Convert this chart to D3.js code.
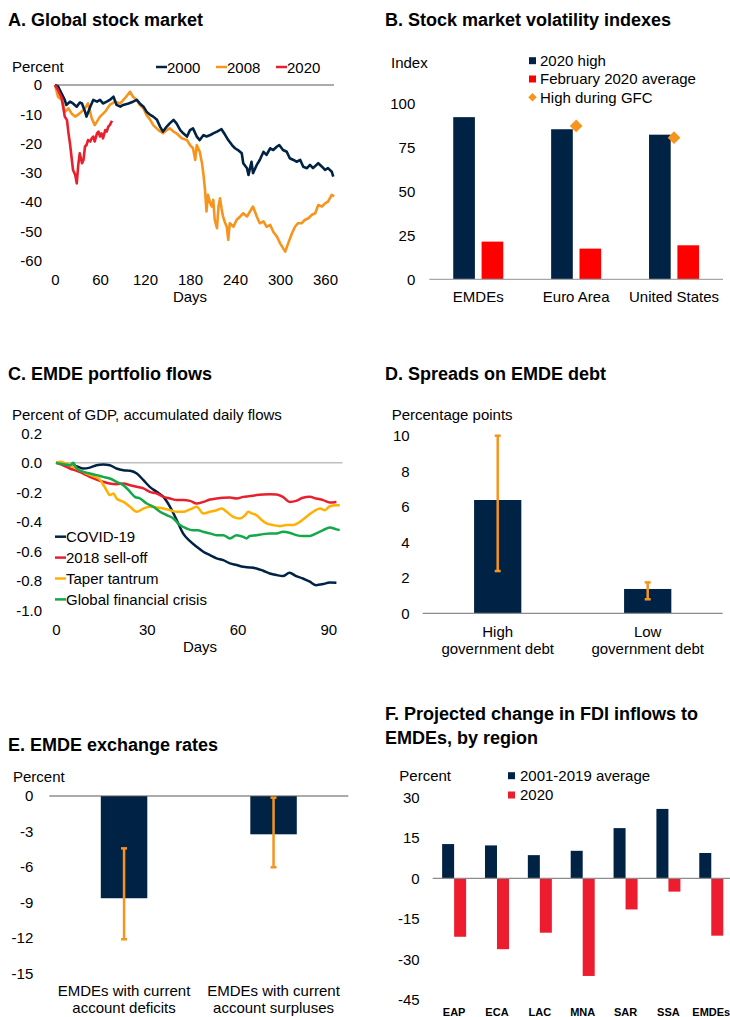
<!DOCTYPE html>
<html>
<head>
<meta charset="utf-8">
<script src="https://cdn.jsdelivr.net/npm/d3@7"></script>
<style>
  body { margin: 0; background: #fff; }
  svg { display: block; font-family: "Liberation Sans", Arial, sans-serif; }
  .title { font-weight: bold; font-size: 18px; fill: #000; }
  .lbl { font-size: 15px; fill: #000; }
  .tick text { font-size: 15px; fill: #000; font-family: "Liberation Sans", Arial, sans-serif; }
</style>
</head>
<body>
<svg id="chart" width="730" height="1017"></svg>
<script>
// ---- Panel A: global stock market, [day, percent]
const stock2000 = [[0,0],[4,-0.5],[8,-2.5],[13,-5.1],[15,-6.8],[20,-5.7],[24,-6.3],[29,-7.4],[33,-6.0],[36,-6.3],[40,-9.1],[42,-10.8],[47,-7.4],[51,-5.1],[56,-5.7],[60,-5.1],[64,-6.3],[69,-5.7],[73,-5.1],[78,-4.0],[82,-6.8],[87,-7.4],[91,-6.8],[98,-6.3],[104,-5.7],[109,-5.1],[113,-6.3],[118,-7.4],[122,-9.1],[127,-10.2],[131,-10.8],[136,-11.9],[140,-14.2],[144,-15.9],[149,-14.2],[153,-13.1],[158,-11.9],[162,-13.1],[167,-15.4],[171,-16.5],[176,-17.6],[180,-15.4],[184,-14.8],[189,-17.6],[193,-18.8],[198,-17.1],[202,-17.6],[207,-17.1],[211,-16.5],[216,-15.9],[222,-15.1],[227,-17.1],[231,-18.8],[236,-20.5],[240,-21.6],[244,-22.2],[249,-23.3],[251,-26.7],[256,-28.4],[258,-30.7],[262,-26.2],[264,-30.1],[269,-27.3],[273,-25.6],[278,-22.8],[282,-23.9],[287,-21.6],[291,-22.2],[296,-21.0],[299,-20.5],[304,-22.2],[309,-22.8],[313,-25.0],[318,-25.6],[322,-26.2],[327,-25.6],[331,-27.9],[336,-28.4],[340,-27.3],[344,-28.4],[351,-26.7],[356,-27.9],[360,-29.0],[364,-28.4],[369,-29.6],[371,-31.3]];
const stock2008 = [[0,0],[4,-4.0],[9,-5.1],[13,-9.1],[18,-8.0],[22,-9.7],[27,-10.8],[33,-9.7],[40,-8.0],[44,-6.3],[49,-11.4],[53,-13.7],[60,-10.8],[67,-9.1],[73,-6.8],[80,-5.7],[87,-6.3],[93,-4.6],[100,-2.3],[104,-4.0],[109,-5.1],[113,-6.8],[118,-8.0],[122,-10.2],[127,-11.9],[131,-13.7],[138,-15.4],[144,-16.5],[149,-15.4],[153,-14.8],[158,-15.9],[162,-16.5],[169,-18.2],[176,-18.8],[180,-20.5],[184,-21.6],[187,-25.6],[189,-20.5],[193,-22.8],[196,-26.7],[198,-30.7],[200,-35.8],[202,-43.2],[204,-37.5],[207,-40.4],[209,-41.5],[211,-39.2],[213,-46.1],[216,-48.9],[218,-41.5],[220,-38.7],[222,-42.1],[224,-44.9],[227,-47.2],[229,-48.4],[231,-52.9],[233,-47.2],[238,-48.4],[242,-46.1],[247,-44.9],[251,-43.8],[256,-44.9],[260,-43.2],[264,-41.5],[269,-44.9],[273,-47.2],[278,-46.6],[282,-48.4],[287,-47.8],[291,-50.1],[296,-51.8],[300,-54.0],[304,-55.7],[307,-56.9],[311,-54.0],[316,-50.6],[320,-48.4],[324,-47.2],[329,-47.2],[333,-46.1],[338,-45.5],[342,-44.4],[347,-43.8],[351,-41.0],[356,-41.5],[360,-40.4],[364,-39.8],[369,-37.5],[372,-38.1]];
const stock2020 = [[0,0],[4,-1.7],[9,-4.5],[13,-10.8],[16,-12.0],[18,-16.5],[20,-20.0],[22,-24.5],[24,-29.0],[27,-30.7],[29,-33.6],[31,-27.3],[33,-23.3],[36,-26.7],[38,-25.6],[40,-21.0],[42,-20.5],[44,-18.8],[47,-19.3],[49,-18.2],[51,-17.6],[53,-19.3],[56,-16.5],[58,-15.9],[60,-17.6],[62,-16.5],[64,-18.2],[67,-15.4],[69,-15.9],[71,-14.2],[73,-13.7],[76,-12.2]];
const stockTicksY = [0,-10,-20,-30,-40,-50,-60];
const stockTicksX = [0,60,120,180,240,300,360];

// ---- Panel B: volatility indexes
const volCats = ["EMDEs","Euro Area","United States"];
const volHigh2020 = [92.5,85.6,82.5];
const volFeb2020 = [21.5,17.5,19.4];
const volGFC = [null,87.5,80.8];
const volTicks = [0,25,50,75,100];

// ---- Panel C: portfolio flows, [day, % of GDP]
const flowCovid = [[0,0],[2.4,-0.005],[4.6,-0.016],[6.8,-0.023],[9,-0.038],[11.2,-0.032],[13.4,-0.016],[15.6,-0.011],[17.8,-0.016],[20,-0.038],[22.3,-0.05],[24.5,-0.054],[26.7,-0.072],[28.9,-0.117],[31,-0.162],[33.3,-0.196],[35.5,-0.23],[37.7,-0.297],[39.9,-0.387],[42,-0.477],[44.3,-0.53],[46.5,-0.568],[48.7,-0.601],[50.9,-0.624],[53.1,-0.646],[55.3,-0.658],[57.5,-0.68],[59.7,-0.691],[61.9,-0.703],[64,-0.707],[66.3,-0.714],[68.5,-0.73],[70.7,-0.748],[72.9,-0.759],[75,-0.766],[77.2,-0.743],[79.4,-0.766],[81.6,-0.782],[83.9,-0.804],[86,-0.827],[88.3,-0.82],[90.5,-0.809],[92.7,-0.811]];
const flow2018 = [[0,0],[2.4,-0.016],[4.6,-0.038],[6.8,-0.054],[9,-0.072],[11.2,-0.095],[13.4,-0.113],[15.6,-0.128],[17.8,-0.14],[20,-0.144],[22.3,-0.14],[24.5,-0.151],[26.7,-0.162],[28.9,-0.173],[31,-0.196],[33.3,-0.207],[35.5,-0.23],[37.7,-0.241],[39.9,-0.252],[42,-0.252],[44.3,-0.257],[46.5,-0.275],[48.7,-0.264],[50.9,-0.248],[53.1,-0.241],[55.3,-0.236],[57.5,-0.234],[59.7,-0.241],[61.9,-0.23],[64,-0.225],[66.3,-0.218],[68.5,-0.214],[70.7,-0.212],[72.9,-0.214],[75,-0.23],[77.2,-0.264],[79.4,-0.257],[81.6,-0.236],[83.9,-0.23],[86,-0.241],[88.3,-0.252],[90.5,-0.268],[92.7,-0.264]];
const flowTaper = [[0,0],[1.3,0.007],[3.5,-0.005],[5.7,-0.027],[7.9,-0.05],[10.1,-0.072],[12.3,-0.09],[14.5,-0.113],[16.7,-0.185],[17.8,-0.218],[19,-0.207],[20,-0.241],[22.3,-0.264],[24.5,-0.297],[26.7,-0.331],[28.9,-0.309],[31,-0.297],[33.3,-0.302],[35.5,-0.309],[37.7,-0.32],[39.9,-0.331],[42,-0.331],[44.3,-0.315],[46.5,-0.297],[48.7,-0.342],[50.9,-0.331],[53.1,-0.32],[54.8,-0.309],[56.4,-0.331],[58.6,-0.365],[60.8,-0.376],[62.5,-0.354],[63.6,-0.331],[64.7,-0.342],[66.3,-0.354],[68,-0.387],[69.6,-0.41],[71.8,-0.421],[74,-0.428],[76.2,-0.421],[78.4,-0.421],[80.6,-0.399],[82.8,-0.365],[85,-0.331],[87.3,-0.309],[88.9,-0.32],[90.5,-0.293],[92.7,-0.286],[93.8,-0.286]];
const flowGFC = [[0,0],[2.4,-0.009],[4.6,-0.016],[5.7,0],[6.8,-0.038],[9,-0.061],[11.2,-0.072],[13.4,-0.083],[15.6,-0.095],[17.8,-0.106],[20,-0.128],[22.3,-0.151],[24.5,-0.196],[26.1,-0.23],[27.8,-0.241],[30,-0.275],[32.2,-0.297],[34.4,-0.331],[36.6,-0.354],[38.8,-0.376],[41,-0.421],[43.2,-0.444],[45.3,-0.455],[46.9,-0.455],[48.7,-0.466],[50.9,-0.477],[53.1,-0.489],[55.3,-0.489],[57.5,-0.511],[59.7,-0.489],[61.9,-0.5],[63,-0.511],[64,-0.495],[66.3,-0.489],[68.5,-0.482],[70.7,-0.477],[72.9,-0.477],[75,-0.466],[77.2,-0.473],[79.4,-0.489],[81.6,-0.495],[83.9,-0.495],[86,-0.477],[88.3,-0.455],[90.5,-0.437],[92.7,-0.45],[93.8,-0.455]];
const flowNames = ["COVID-19","2018 sell-off","Taper tantrum","Global financial crisis"];
const flowTicksY = [0.2,0,-0.2,-0.4,-0.6,-0.8,-1.0];
const flowTicksX = [0,30,60,90];

// ---- Panel D: spreads
const debtCats = [["High","government debt"],["Low","government debt"]];
const debtSpread = [6.38,1.37];
const debtLow = [2.38,0.79];
const debtHigh = [10.0,1.74];
const debtTicks = [0,2,4,6,8,10];

// ---- Panel E: exchange rates
const fxCats = [["EMDEs with current","account deficits"],["EMDEs with current","account surpluses"]];
const fxChange = [-8.65,-3.24];
const fxLow = [-12.12,-6.03];
const fxHigh = [-4.43,-0.14];
const fxTicks = [0,-3,-6,-9,-12,-15];

// ---- Panel F: FDI inflows
const fdiCats = ["EAP","ECA","LAC","MNA","SAR","SSA","EMDEs"];
const fdiAvg = [12.7,12.2,8.6,10.2,18.6,25.7,9.4];
const fdi2020 = [-21.6,-26.2,-20.1,-36.1,-11.5,-4.9,-21.2];
const fdiTicks = [30,15,0,-15,-30,-45];

const navy = "#002345", orange = "#f7941d";
const svg = d3.select("#chart");

function title(x, y, lines) {
  lines.forEach((t, i) => svg.append("text").attr("class", "title")
    .attr("x", x).attr("y", y + i * 24).text(t));
}
function label(x, y, t, anchor) {
  return svg.append("text").attr("class", "lbl").attr("x", x).attr("y", y)
    .attr("text-anchor", anchor || "start").text(t);
}
function leftAxis(y, x0, vals, pad, fmt) {
  svg.append("g").attr("transform", `translate(${x0},0)`)
    .call(d3.axisLeft(y).tickValues(vals).tickSize(0).tickPadding(pad).tickFormat(fmt || (d => String(d))))
    .call(g => g.select(".domain").remove());
}
function hline(x1, x2, y, col, w) {
  svg.append("line").attr("x1", x1).attr("x2", x2).attr("y1", y).attr("y2", y)
    .attr("stroke", col).attr("stroke-width", w || 1);
}

// ================= A =================
title(8, 26, ["A. Global stock market"]);
label(12, 72, "Percent");
const xA = d3.scaleLinear().domain([0, 372]).range([55, 334]);
const yA = d3.scaleLinear().domain([-60, 0]).range([260.7, 85]);
leftAxis(yA, 55, stockTicksY, 13);
svg.append("g").attr("transform", `translate(0,${yA(-60)})`)
  .call(d3.axisBottom(xA).tickValues(stockTicksX).tickSize(0).tickPadding(14))
  .call(g => g.select(".domain").remove());
label(190, 302, "Days", "middle");
hline(xA(0), xA(372), yA(0), "#595959", 1.2);
const lineA = d3.line().x(d => xA(d[0])).y(d => yA(d[1]));
[[stock2008, orange], [stock2000, navy], [stock2020, "#e8202e"]].forEach(([s, c]) => {
  svg.append("path").datum(s).attr("d", lineA).attr("fill", "none")
    .attr("stroke", c).attr("stroke-width", 2.6).attr("stroke-linejoin", "round");
});
[["2000", navy, 156], ["2008", orange, 216], ["2020", "#e8202e", 276]].forEach(([t, c, x]) => {
  hline(x, x + 11, 67, c, 2.5);
  label(x + 11, 72.5, t);
});

// ================= B =================
title(385, 26, ["B. Stock market volatility indexes"]);
label(391, 68, "Index");
const xB = d3.scaleBand().domain(volCats).range([429.3, 723]).paddingInner(0.489).paddingOuter(0.2445);
const xB1 = d3.scaleBand().domain([0, 1]).range([0, xB.bandwidth()]).paddingInner(0.236);
const yB = d3.scaleLinear().domain([0, 100]).range([279.3, 104]);
leftAxis(yB, 429.3, volTicks, 14);
volCats.forEach((c, i) => {
  svg.append("rect").attr("x", xB(c) + xB1(0)).attr("width", xB1.bandwidth())
    .attr("y", yB(volHigh2020[i])).attr("height", yB(0) - yB(volHigh2020[i])).attr("fill", navy);
  svg.append("rect").attr("x", xB(c) + xB1(1)).attr("width", xB1.bandwidth())
    .attr("y", yB(volFeb2020[i])).attr("height", yB(0) - yB(volFeb2020[i])).attr("fill", "#ff0000");
  if (volGFC[i] != null) {
    svg.append("path").attr("d", d3.symbol(d3.symbolSquare, 81)())
      .attr("transform", `translate(${xB(c) + xB.bandwidth() / 2},${yB(volGFC[i])}) rotate(45)`)
      .attr("fill", orange);
  }
  label(xB(c) + xB.bandwidth() / 2, 302, c, "middle");
});
hline(429.3, 723, yB(0), "#a6a6a6", 1.2);
[["2020 high", navy, "sq"], ["February 2020 average", "#ff0000", "sq"], ["High during GFC", orange, "dm"]].forEach(([t, c, k], i) => {
  const cy = 60.7 + i * 18.3;
  if (k === "sq") svg.append("rect").attr("x", 529).attr("y", cy - 3.5).attr("width", 7).attr("height", 7).attr("fill", c);
  else svg.append("path").attr("d", d3.symbol(d3.symbolSquare, 36)())
    .attr("transform", `translate(532.5,${cy}) rotate(45)`).attr("fill", c);
  label(540, cy + 5.3, t);
});

// ================= C =================
title(8, 380, ["C. EMDE portfolio flows"]);
label(12, 420, "Percent of GDP, accumulated daily flows");
const xC = d3.scaleLinear().domain([0, 95]).range([56, 56 + 3.025 * 95]);
const yC = d3.scaleLinear().domain([-1, 0.2]).range([610.7, 433.3]);
leftAxis(yC, 56, flowTicksY, 14, d => d.toFixed(1));
svg.append("g").attr("transform", `translate(0,${yC(-1)})`)
  .call(d3.axisBottom(xC).tickValues(flowTicksX).tickSize(0).tickPadding(14))
  .call(g => g.select(".domain").remove());
label(200, 652, "Days", "middle");
hline(xC(0), xC(94.7), yC(0), "#bfbfbf", 1.5);
const lineC = d3.line().x(d => xC(d[0])).y(d => yC(d[1])).curve(d3.curveMonotoneX);
const flowCols = [navy, "#e8202e", "#ffb000", "#13a84a"];
[flowCovid, flow2018, flowTaper, flowGFC].forEach((s, i) => {
  svg.append("path").datum(s).attr("d", lineC).attr("fill", "none")
    .attr("stroke", flowCols[i]).attr("stroke-width", 2.5).attr("stroke-linejoin", "round");
});
flowNames.forEach((t, i) => {
  const cy = 536.7 + i * 20.9;
  hline(55, 66, cy, flowCols[i], 2.5);
  label(66, cy + 5.3, t);
});

// ================= D =================
title(385, 380, ["D. Spreads on EMDE debt"]);
label(391.7, 420, "Percentage points");
const xD = d3.scaleBand().domain([0, 1]).range([422.7, 722.7]).paddingInner(0.685).paddingOuter(0.3425);
const yD = d3.scaleLinear().domain([0, 10]).range([613.3, 435.7]);
leftAxis(yD, 422.7, debtTicks, 13);
debtSpread.forEach((v, i) => {
  svg.append("rect").attr("x", xD(i)).attr("width", xD.bandwidth())
    .attr("y", yD(v)).attr("height", yD(0) - yD(v)).attr("fill", navy);
});
hline(422.7, 722.7, yD(0), "#8c8c8c", 1.2);
debtSpread.forEach((v, i) => {
  const cx = xD(i) + xD.bandwidth() / 2;
  svg.append("line").attr("x1", cx).attr("x2", cx).attr("y1", yD(debtHigh[i])).attr("y2", yD(debtLow[i]))
    .attr("stroke", orange).attr("stroke-width", 2.5);
  [debtHigh[i], debtLow[i]].forEach(e => hline(cx - 3, cx + 3, yD(e), orange, 2.5));
  debtCats[i].forEach((t, j) => label(cx, 637 + j * 16.6, t, "middle"));
});

// ================= E =================
title(8, 751, ["E. EMDE exchange rates"]);
label(13, 782, "Percent");
const xE = d3.scaleBand().domain([0, 1]).range([49.3, 348.3]).paddingInner(0.689).paddingOuter(0.3445);
const yE = d3.scaleLinear().domain([-15, 0]).range([973.3, 796]);
leftAxis(yE, 49.3, fxTicks, 16);
fxChange.forEach((v, i) => {
  svg.append("rect").attr("x", xE(i)).attr("width", xE.bandwidth())
    .attr("y", yE(0)).attr("height", yE(v) - yE(0)).attr("fill", navy);
});
hline(49.3, 348.3, yE(0), "#595959", 1.2);
fxChange.forEach((v, i) => {
  const cx = xE(i) + xE.bandwidth() / 2;
  svg.append("line").attr("x1", cx).attr("x2", cx).attr("y1", yE(fxHigh[i])).attr("y2", yE(fxLow[i]))
    .attr("stroke", orange).attr("stroke-width", 2.5);
  [fxHigh[i], fxLow[i]].forEach(e => hline(cx - 3, cx + 3, yE(e), orange, 2.5));
  fxCats[i].forEach((t, j) => label(cx, 996 + j * 17.3, t, "middle"));
});

// ================= F =================
title(385, 720, ["F. Projected change in FDI inflows to", "EMDEs, by region"]);
label(399.3, 781, "Percent");
const xF = d3.scaleBand().domain(fdiCats).range([432.7, 732.7]).paddingInner(0.44).paddingOuter(0.22);
const xF1 = d3.scaleBand().domain([0, 1]).range([0, xF.bandwidth()]);
const yF = d3.scaleLinear().domain([-45, 30]).range([1000, 797.3]);
leftAxis(yF, 432.7, fdiTicks, 13);
fdiCats.forEach((c, i) => {
  svg.append("rect").attr("x", xF(c) + xF1(0)).attr("width", xF1.bandwidth())
    .attr("y", yF(fdiAvg[i])).attr("height", yF(0) - yF(fdiAvg[i])).attr("fill", navy);
  svg.append("rect").attr("x", xF(c) + xF1(1)).attr("width", xF1.bandwidth())
    .attr("y", yF(0)).attr("height", yF(fdi2020[i]) - yF(0)).attr("fill", "#ed1c2e");
  svg.append("text").attr("x", xF(c) + xF.bandwidth() / 2).attr("y", 1015.5)
    .attr("text-anchor", "middle").attr("font-size", 11).attr("font-weight", "bold").text(c);
});
hline(432.7, 730, yF(0), "#8c8c8c", 1.2);
[["2001-2019 average", navy], ["2020", "#ed1c2e"]].forEach(([t, c], i) => {
  const cy = 775.7 + i * 19.3;
  svg.append("rect").attr("x", 508).attr("y", cy - 3.5).attr("width", 7).attr("height", 7).attr("fill", c);
  label(520, cy + 5.3, t);
});
</script>
</body>
</html>
